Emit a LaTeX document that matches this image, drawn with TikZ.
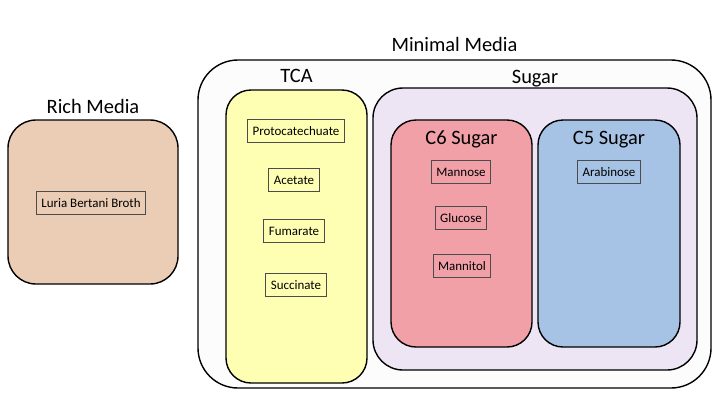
\documentclass[tikz,border=0pt]{standalone}
\usepackage{fontspec}
\setmainfont{Carlito}
\usepackage{xcolor}
\usetikzlibrary{positioning}

\definecolor{richfill}{RGB}{235,204,181}
\definecolor{minfill}{RGB}{252,252,252}
\definecolor{tcafill}{RGB}{255,255,180}
\definecolor{sugarfill}{RGB}{237,229,243}
\definecolor{csixfill}{RGB}{242,160,168}
\definecolor{cfivefill}{RGB}{166,195,229}

\tikzset{
  grp/.style={draw=black, line width=1.4bp, inner sep=0pt, rounded corners=#1},
  grptitle/.style={inner sep=0pt, text height=14bp, text depth=4bp,
    font=\fontsize{20.5}{24}\selectfont},
  item/.style={draw=black!70, line width=0.9bp, inner xsep=5bp, inner ysep=0pt,
    minimum height=23bp, font=\fontsize{13}{15}\selectfont}
}

\begin{document}
\begin{tikzpicture}[x=1bp,y=-1bp]
  \useasboundingbox (0,0) rectangle (720,405);

  % rich media
  \node[grp=28bp, fill=richfill, minimum width=170bp, minimum height=164bp] (rich) at (93,202) {};
  \node[grptitle, above=2bp of rich] (richlbl) {Rich Media};
  \node[item] (lb) at (91,203) {Luria Bertani Broth};

  % minimal media
  \node[grp=40bp, fill=minfill, minimum width=513bp, minimum height=328bp] (minimal) at (454.5,224) {};
  \node[grptitle, above=4bp of minimal] (minlbl) {Minimal Media};

  % TCA
  \node[grp=25bp, fill=tcafill, minimum width=141bp, minimum height=293bp] (tca) at (296.5,236.5) {};
  \node[grptitle, above=3bp of tca] (tcalbl) {TCA};
  \node[item] (pca) at (296,131) {Protocatechuate};
  \node[item] (ace) at (294,180) {Acetate};
  \node[item] (fum) at (294,231) {Fumarate};
  \node[item] (suc) at (296,285) {Succinate};

  % sugar
  \node[grp=30bp, fill=sugarfill, minimum width=324bp, minimum height=282bp] (sugar) at (535,229) {};
  \node[grptitle, above=0bp of sugar] (sugarlbl) {Sugar};

  \node[grp=25bp, fill=csixfill, minimum width=141bp, minimum height=227bp] (csix) at (461.5,233.5) {};
  \node[grptitle, below=11bp of csix.north] (csixlbl) {C6 Sugar};
  \node[item] (man) at (461,172) {Mannose};
  \node[item] (glc) at (461,218) {Glucose};
  \node[item] (mtl) at (462,266) {Mannitol};

  \node[grp=25bp, fill=cfivefill, minimum width=142bp, minimum height=227bp] (cfive) at (609,233.5) {};
  \node[grptitle, below=11bp of cfive.north] (cfivelbl) {C5 Sugar};
  \node[item] (ara) at (609,172) {Arabinose};

\end{tikzpicture}
\end{document}
